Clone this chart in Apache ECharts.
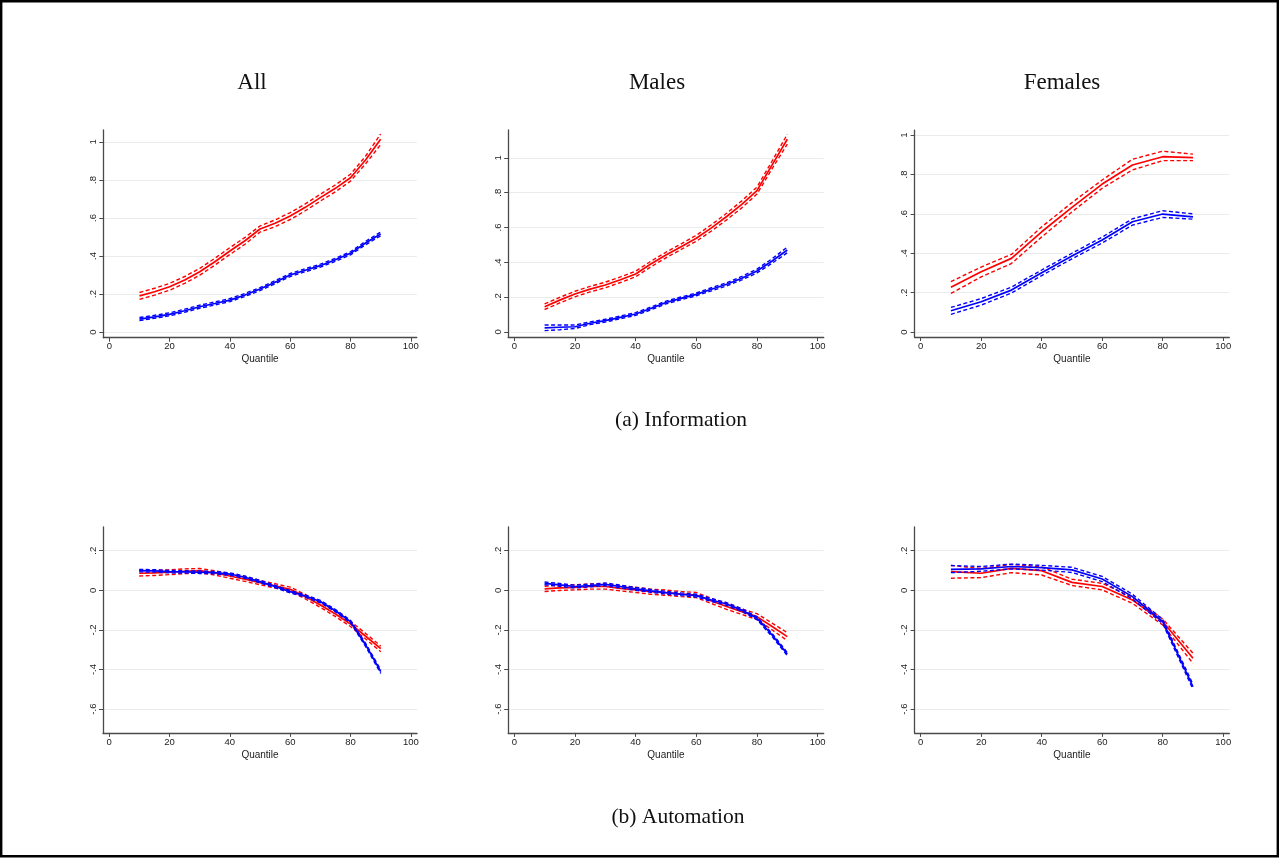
<!DOCTYPE html>
<html>
<head>
<meta charset="utf-8">
<script src="https://cdn.jsdelivr.net/npm/echarts@6/dist/echarts.min.js"></script>
<style>
html,body{margin:0;padding:0;background:#fff;}
#chart{width:1280px;height:858px;}
</style>
</head>
<body>
<div id="chart"></div>
<script>
// ---------- data ----------
const q5 = [10,15,20,25,30,35,40,45,50,55,60,65,70,75,80,85,90];
const q10 = [10,20,30,40,50,60,70,80,90];

const xTicks = [0,20,40,60,80,100];
const yTicksInfo = [0,0.2,0.4,0.6,0.8,1];
const yTicksAuto = [-0.6,-0.4,-0.2,0,0.2];

const colTitles = ['All','Males','Females'];
const rowTitles = ['(a) Information','(b) Automation'];
const xName = 'Quantile';

// Information, All
const infoAllRed   = [0.190,0.212,0.238,0.274,0.317,0.370,0.426,0.480,0.542,0.572,0.610,0.656,0.707,0.756,0.812,0.905,1.014];
const infoAllRedHi = [0.208,0.230,0.256,0.292,0.335,0.388,0.444,0.498,0.558,0.590,0.628,0.674,0.725,0.774,0.830,0.925,1.042];
const infoAllRedLo = [0.172,0.194,0.220,0.256,0.299,0.352,0.408,0.462,0.526,0.554,0.592,0.638,0.689,0.738,0.794,0.885,0.986];
const infoAllBlue   = [0.068,0.080,0.093,0.112,0.133,0.150,0.168,0.195,0.226,0.262,0.300,0.325,0.349,0.380,0.414,0.468,0.516];
const infoAllBlueHi = [0.076,0.088,0.101,0.120,0.141,0.158,0.176,0.203,0.234,0.270,0.308,0.333,0.357,0.388,0.422,0.477,0.526];
const infoAllBlueLo = [0.060,0.072,0.085,0.104,0.125,0.142,0.160,0.187,0.218,0.254,0.292,0.317,0.341,0.372,0.406,0.459,0.506];

// Information, Males
const infoMaleRed   = [0.145,0.183,0.218,0.246,0.270,0.300,0.333,0.390,0.442,0.490,0.538,0.598,0.663,0.733,0.812,0.960,1.107];
const infoMaleRedHi = [0.161,0.199,0.234,0.262,0.286,0.316,0.349,0.406,0.458,0.506,0.555,0.616,0.682,0.753,0.832,0.982,1.135];
const infoMaleRedLo = [0.129,0.167,0.202,0.230,0.254,0.284,0.317,0.374,0.426,0.474,0.521,0.580,0.644,0.713,0.792,0.938,1.079];
const infoMaleBlue   = [0.023,0.027,0.030,0.050,0.065,0.084,0.103,0.135,0.169,0.193,0.216,0.245,0.274,0.309,0.350,0.408,0.471];
const infoMaleBlueHi = [0.040,0.040,0.040,0.058,0.073,0.092,0.111,0.143,0.177,0.201,0.224,0.254,0.283,0.319,0.361,0.421,0.487];
const infoMaleBlueLo = [0.008,0.013,0.020,0.042,0.057,0.076,0.095,0.127,0.161,0.185,0.208,0.236,0.265,0.299,0.339,0.395,0.455];

// Information, Females
const infoFemRed   = [0.227,0.306,0.374,0.509,0.633,0.751,0.848,0.890,0.885];
const infoFemRedHi = [0.256,0.330,0.394,0.534,0.657,0.772,0.877,0.918,0.903];
const infoFemRedLo = [0.196,0.280,0.348,0.483,0.610,0.730,0.823,0.870,0.870];
const infoFemBlue   = [0.108,0.154,0.213,0.301,0.386,0.467,0.560,0.599,0.585];
const infoFemBlueHi = [0.125,0.170,0.228,0.315,0.400,0.482,0.575,0.616,0.600];
const infoFemBlueLo = [0.090,0.137,0.198,0.287,0.372,0.452,0.543,0.582,0.573];

// Automation, All
const autoAllRed   = [0.086,0.088,0.091,0.096,0.099,0.088,0.072,0.056,0.039,0.022,0.005,-0.032,-0.074,-0.120,-0.170,-0.232,-0.295];
const autoAllRedHi = [0.100,0.101,0.103,0.108,0.110,0.099,0.083,0.067,0.050,0.033,0.016,-0.021,-0.062,-0.107,-0.157,-0.218,-0.282];
const autoAllRedLo = [0.072,0.075,0.079,0.084,0.088,0.077,0.061,0.045,0.028,0.011,-0.006,-0.043,-0.086,-0.133,-0.183,-0.246,-0.310];
const autoAllBlue   = [0.099,0.098,0.094,0.093,0.091,0.089,0.082,0.066,0.044,0.019,-0.007,-0.029,-0.057,-0.103,-0.158,-0.276,-0.411];
const autoAllBlueHi = [0.105,0.104,0.100,0.099,0.097,0.095,0.088,0.072,0.050,0.025,-0.001,-0.023,-0.051,-0.097,-0.152,-0.268,-0.402];
const autoAllBlueLo = [0.093,0.092,0.088,0.087,0.085,0.083,0.076,0.060,0.038,0.013,-0.013,-0.035,-0.063,-0.109,-0.164,-0.284,-0.420];

// Automation, Males
const autoMaleRed   = [0.007,0.012,0.015,0.019,0.019,0.010,0.002,-0.007,-0.012,-0.019,-0.024,-0.054,-0.082,-0.108,-0.133,-0.183,-0.234];
const autoMaleRedHi = [0.020,0.025,0.028,0.032,0.032,0.023,0.015,0.006,0.001,-0.006,-0.011,-0.041,-0.068,-0.094,-0.118,-0.166,-0.214];
const autoMaleRedLo = [-0.006,-0.001,0.002,0.006,0.006,-0.003,-0.011,-0.020,-0.025,-0.032,-0.037,-0.067,-0.096,-0.122,-0.148,-0.200,-0.254];
const autoMaleBlue   = [0.035,0.027,0.019,0.024,0.030,0.019,0.007,-0.003,-0.012,-0.020,-0.027,-0.049,-0.069,-0.100,-0.141,-0.226,-0.322];
const autoMaleBlueHi = [0.042,0.034,0.026,0.031,0.037,0.026,0.014,0.004,-0.005,-0.013,-0.020,-0.042,-0.062,-0.093,-0.134,-0.218,-0.314];
const autoMaleBlueLo = [0.028,0.020,0.012,0.017,0.023,0.012,0.000,-0.010,-0.019,-0.027,-0.034,-0.056,-0.076,-0.107,-0.148,-0.234,-0.330];

// Automation, Females
const autoFemRed   = [0.094,0.086,0.111,0.099,0.040,0.019,-0.049,-0.158,-0.343];
const autoFemRedHi = [0.125,0.110,0.131,0.118,0.056,0.035,-0.035,-0.145,-0.318];
const autoFemRedLo = [0.061,0.064,0.089,0.077,0.024,0.002,-0.066,-0.175,-0.369];
const autoFemBlue   = [0.106,0.108,0.120,0.114,0.103,0.057,-0.032,-0.158,-0.487];
const autoFemBlueHi = [0.125,0.120,0.132,0.126,0.116,0.070,-0.020,-0.148,-0.475];
const autoFemBlueLo = [0.089,0.096,0.108,0.102,0.090,0.044,-0.044,-0.168,-0.500];

// ---------- layout ----------
const panels = [
  {x: q5,  red:[infoAllRed,infoAllRedHi,infoAllRedLo],  blue:[infoAllBlue,infoAllBlueHi,infoAllBlueLo],  yt:yTicksInfo, ymin:-0.03, ymax:1.063, grid:{left:103.3, top:130, width:313.5, height:207.7}},
  {x: q5,  red:[infoMaleRed,infoMaleRedHi,infoMaleRedLo], blue:[infoMaleBlue,infoMaleBlueHi,infoMaleBlueLo], yt:yTicksInfo, ymin:-0.03, ymax:1.16, grid:{left:508.2, top:130, width:315.5, height:207.2}},
  {x: q10, red:[infoFemRed,infoFemRedHi,infoFemRedLo],  blue:[infoFemBlue,infoFemBlueHi,infoFemBlueLo],  yt:yTicksInfo, ymin:-0.025, ymax:1.025, grid:{left:914.6, top:130.1, width:314.7, height:206.9}},
  {x: q5,  red:[autoAllRed,autoAllRedHi,autoAllRedLo],  blue:[autoAllBlue,autoAllBlueHi,autoAllBlueLo],  yt:yTicksAuto, ymin:-0.72, ymax:0.32, grid:{left:103, top:526.9, width:314, height:206}},
  {x: q5,  red:[autoMaleRed,autoMaleRedHi,autoMaleRedLo], blue:[autoMaleBlue,autoMaleBlueHi,autoMaleBlueLo], yt:yTicksAuto, ymin:-0.72, ymax:0.32, grid:{left:508.2, top:526.9, width:315.5, height:206}},
  {x: q10, red:[autoFemRed,autoFemRedHi,autoFemRedLo],  blue:[autoFemBlue,autoFemBlueHi,autoFemBlueLo],  yt:yTicksAuto, ymin:-0.72, ymax:0.32, grid:{left:914.6, top:526.9, width:314.7, height:206}}
];

const RED = '#ff0000', BLUE = '#0000ff';
const AXIS = '#4a4a4a', LABEL = '#222222';

function fmt(v){
  const r = Math.round(v*10)/10;
  if (r === 0) return '0';
  if (r === 1) return '1';
  let s = r.toString();
  s = s.replace('0.', '.');
  return s;
}

const grids = [], xAxes = [], yAxes = [], series = [];
panels.forEach((p, i) => {
  grids.push(Object.assign({containLabel:false}, p.grid));
  xAxes.push({
    type:'value', gridIndex:i, min:-2, max:102,
    name: xName, nameLocation:'middle', nameGap:17,
    nameTextStyle:{fontFamily:'Liberation Sans', fontSize:10, color:LABEL},
    axisLine:{show:true, onZero:false, lineStyle:{color:AXIS, width:1.3}},
    axisTick:{show:true, inside:false, length:4, lineStyle:{color:AXIS}, customValues:xTicks},
    axisLabel:{show:true, margin:4, fontFamily:'Liberation Sans', fontSize:9.5, color:LABEL, customValues:xTicks, formatter:v=>String(v)},
    splitLine:{show:false}
  });
  yAxes.push({
    type:'value', gridIndex:i, min:p.ymin, max:p.ymax,
    axisLine:{show:true, onZero:false, lineStyle:{color:AXIS, width:1.3}},
    axisTick:{show:true, inside:false, length:4, lineStyle:{color:AXIS}, customValues:p.yt},
    axisLabel:{show:true, margin:5, rotate:90, fontFamily:'Liberation Sans', fontSize:9.5, color:LABEL, customValues:p.yt, formatter:fmt},
    splitLine:{show:true, lineStyle:{color:'#ebebeb', width:1}}
  });
  const mk = (xs, ys, color, dashed) => ({
    type:'line', xAxisIndex:i, yAxisIndex:i,
    data: xs.map((x,k)=>[x, ys[k]]),
    showSymbol:false, symbol:'none', silent:true,
    lineStyle:{color:color, width: dashed?1.4:1.7, type: dashed?[4,2.5]:'solid'},
    z: 2
  });
  series.push(mk(p.x, p.red[0], RED, false));
  series.push(mk(p.x, p.red[1], RED, true));
  series.push(mk(p.x, p.red[2], RED, true));
  series.push(mk(p.x, p.blue[0], BLUE, false));
  series.push(mk(p.x, p.blue[1], BLUE, true));
  series.push(mk(p.x, p.blue[2], BLUE, true));
});

const colX = [252, 657, 1062];
const graphic = [
  {type:'rect', shape:{x:1.2, y:1.2, width:1276.6, height:855}, style:{fill:'none', stroke:'#000', lineWidth:2.4}, silent:true}
];
colTitles.forEach((t,i)=>graphic.push({type:'text', x:colX[i], y:83, style:{text:t, fontFamily:'Liberation Serif', fontSize:23, fill:'#111', align:'center', verticalAlign:'middle'}}));
graphic.push({type:'text', x:681, y:420, style:{text:rowTitles[0], fontFamily:'Liberation Serif', fontSize:21.5, fill:'#111', align:'center', verticalAlign:'middle'}});
graphic.push({type:'text', x:678, y:817, style:{text:rowTitles[1], fontFamily:'Liberation Serif', fontSize:21.5, fill:'#111', align:'center', verticalAlign:'middle'}});

const chart = echarts.init(document.getElementById('chart'), null, {renderer:'canvas'});
chart.setOption({
  animation:false,
  backgroundColor:'#ffffff',
  grid: grids, xAxis: xAxes, yAxis: yAxes, series: series,
  graphic: graphic
});
</script>
</body>
</html>
